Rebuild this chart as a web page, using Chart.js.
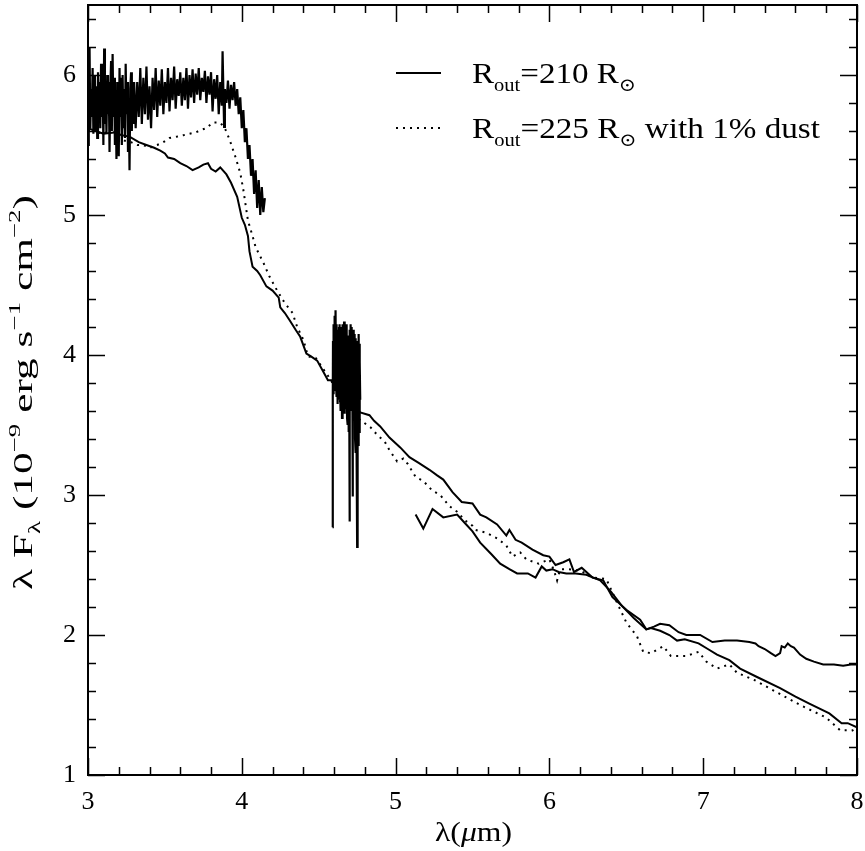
<!DOCTYPE html>
<html>
<head>
<meta charset="utf-8">
<script src="https://cdn.jsdelivr.net/npm/chart.js@4.4.1/dist/chart.umd.min.js"></script>
<style>
  body { margin: 0; background: #fff; }
  canvas { display: block; }
</style>
</head>
<body>
<canvas id="sed" width="865" height="851"></canvas>
<script>
// Observed spectrum, first band (3.0 - 4.15 um)
const obs1X = [3.000,3.005,3.010,3.015,3.020,3.025,3.030,3.035,3.040,3.045,3.050,3.055,3.060,3.065,3.070,3.075,
  3.080,3.085,3.090,3.095,3.100,3.105,3.110,3.115,3.120,3.125,3.130,3.135,3.140,3.145,3.150,3.155,3.160,3.165,
  3.170,3.175,3.180,3.185,3.190,3.195,3.200,3.205,3.210,3.215,3.220,3.225,3.230,3.235,3.240,3.245,3.250,3.255,
  3.260,3.265,3.270,3.275,3.280,3.285,3.290,3.295,3.300,
  3.31,3.32,3.33,3.34,3.35,3.36,3.37,3.38,3.39,
  3.40,3.41,3.42,3.43,3.44,3.45,3.46,3.47,3.48,3.49,3.50,3.51,3.52,3.53,3.54,3.55,3.56,3.57,3.58,3.59,
  3.60,3.61,3.62,3.63,3.64,3.65,3.66,3.67,3.68,3.69,3.70,3.71,3.72,3.73,3.74,3.75,3.76,3.77,3.78,3.79,
  3.80,3.81,3.82,3.83,3.84,3.85,3.86,3.87,3.875,3.885,3.89,3.90,3.91,3.92,3.93,3.94,3.95,3.96,3.97,3.98,
  3.99,4.00,4.01,4.02,4.03,4.04,4.05,4.06,4.07,4.08,4.09,4.10,4.11,4.12,4.13,4.14,4.15];
const obs1Y = [5.50,5.95,6.20,5.62,5.90,5.70,6.05,5.58,5.85,6.00,5.60,5.92,5.55,6.02,5.75,5.95,
  5.62,6.08,5.70,5.98,5.50,6.19,5.65,5.92,5.58,6.00,5.72,5.95,5.45,5.88,6.10,5.60,6.15,5.70,
  5.98,5.50,5.85,5.40,5.95,5.62,5.42,6.05,5.70,5.98,5.50,6.00,5.62,5.90,5.55,6.08,5.72,5.95,
  5.45,5.80,5.32,5.90,6.02,5.60,5.95,5.65,5.95,
  5.62,5.95,5.70,6.05,5.65,5.98,5.72,6.06,5.68,
  5.92,5.62,5.98,5.75,6.05,5.70,5.96,5.78,6.04,5.72,5.95,5.80,6.05,5.74,5.98,5.82,6.06,5.76,5.97,5.85,
  6.02,5.78,5.98,5.82,6.05,5.76,6.00,5.84,6.04,5.80,6.01,5.86,6.05,5.82,5.98,5.88,6.03,5.80,5.99,5.86,
  6.02,5.74,5.97,5.83,6.00,5.72,5.95,5.78,6.17,5.63,5.90,5.80,5.96,5.76,5.93,5.82,5.95,5.78,5.90,5.72,
  5.84,5.62,5.75,5.52,5.62,5.40,5.50,5.28,5.40,5.15,5.32,5.05,5.25,5.00,5.20,5.02,5.12];

// Observed spectrum, second band (4.59 - 4.77 um)
const obs2X = [4.5900,4.5915,4.5930,4.5945,4.5960,4.5975,4.5990,4.6005,4.6020,4.6035,4.6050,4.6065,4.6080,4.6095,
  4.6110,4.6125,4.6140,4.6155,4.6170,4.6185,4.6200,4.6215,4.6230,4.6245,4.6260,4.6275,4.6290,4.6305,4.6320,
  4.6335,4.6350,4.6365,4.6380,4.6395,4.6410,4.6425,4.6440,4.6455,4.6470,4.6485,4.6500,4.6515,4.6530,4.6545,
  4.6560,4.6575,4.6590,4.6605,4.6620,4.6635,4.6650,4.6665,4.6680,4.6695,4.6710,4.6725,4.6740,4.6755,4.6770,
  4.6785,4.6800,4.6815,4.6830,4.6845,4.6860,4.6875,4.6890,4.6905,4.6920,4.6935,4.6950,4.6965,4.6980,4.7000,
  4.7015,4.7030,4.7045,4.7060,4.7075,4.7090,4.7105,4.7120,4.7135,4.7150,4.7165,4.7180,4.7200,4.7215,4.7230,
  4.7245,4.7260,4.7275,4.7290,4.7305,4.7320,4.7335,4.7350,4.7365,4.7380,4.7395,4.7410,4.7425,4.7440,4.7455,
  4.7470,4.7485,4.7500,4.7515,4.7530,4.7545,4.7560,4.7575,4.7590,4.7605,4.7620,4.7635,4.7650,4.7665,4.7680,
  4.7700];
const obs2Y = [2.77,3.70,4.10,3.80,4.22,3.72,4.18,3.95,4.28,3.85,4.25,3.75,4.20,3.90,
  4.32,3.80,4.15,3.70,4.22,3.88,4.12,3.65,4.05,3.75,4.18,3.82,4.10,3.68,4.20,
  3.78,4.15,3.85,4.22,3.72,4.10,3.60,4.18,3.80,4.12,3.70,4.20,3.55,4.08,3.82,
  4.22,3.75,4.15,3.66,4.18,3.85,4.24,3.70,4.10,3.58,4.16,3.80,4.20,3.72,4.12,
  3.62,4.18,3.78,4.22,3.55,4.08,3.70,4.14,3.50,4.05,3.68,4.10,3.45,3.90,2.81,
  3.95,4.18,3.70,4.15,3.82,4.22,3.65,4.12,3.78,4.20,3.60,4.05,2.99,3.90,4.15,
  3.68,4.10,3.75,4.18,3.58,4.08,3.72,4.15,3.40,4.02,3.65,4.12,3.30,3.95,3.60,
  4.05,3.20,2.63,3.85,4.10,3.50,4.05,3.35,4.12,3.60,4.15,3.45,4.08,3.70,3.95,
  3.68];

// Observed spectrum, third band (5.13 - 8.0 um)
const obs3X = [5.13,5.18,5.24,5.31,5.40,5.45,5.50,5.55,5.62,5.68,5.74,5.79,5.86,5.91,5.95,5.98,6.02,6.06,6.11,6.17,
  6.24,6.33,6.40,6.47,6.55,6.63,6.68,6.72,6.78,6.84,6.89,6.98,7.06,7.14,7.22,7.30,7.34,7.36,7.40,7.44,
  7.47,7.50,7.51,7.53,7.55,7.57,7.59,7.63,7.67,7.72,7.78,7.85,7.91,7.96,8.00];
const obs3Y = [2.86,2.76,2.90,2.84,2.86,2.80,2.74,2.66,2.58,2.51,2.47,2.44,2.44,2.41,2.49,2.46,2.47,2.45,2.44,2.44,
  2.43,2.39,2.31,2.21,2.12,2.04,2.06,2.08,2.07,2.02,2.00,2.00,1.95,1.96,1.96,1.95,1.94,1.92,1.90,1.87,
  1.85,1.87,1.92,1.91,1.94,1.92,1.91,1.86,1.83,1.81,1.79,1.79,1.78,1.79,1.79];

// Model, R_out = 210 R_sun
const modAX = [3.00,3.05,3.10,3.17,3.22,3.27,3.33,3.38,3.43,3.47,3.50,3.52,3.56,3.60,3.64,3.68,3.72,3.75,3.78,3.80,
  3.83,3.86,3.90,3.93,3.97,4.00,4.02,4.04,4.05,4.07,4.10,4.12,4.16,4.20,4.24,4.25,4.28,4.31,4.35,4.38,
  4.42,4.45,4.49,4.53,4.56,4.59,4.62,4.68,4.72,4.77,4.83,4.86,4.90,4.96,5.03,5.09,5.15,5.22,5.27,5.31,
  5.37,5.43,5.50,5.55,5.59,5.66,5.72,5.74,5.78,5.82,5.89,5.96,6.00,6.04,6.09,6.13,6.16,6.21,6.28,6.35,
  6.41,6.50,6.59,6.63,6.66,6.72,6.78,6.83,6.88,6.97,7.03,7.09,7.17,7.24,7.35,7.50,7.60,7.69,7.82,7.90,
  7.94,8.00];
const modAY = [5.62,5.60,5.58,5.59,5.57,5.56,5.52,5.50,5.48,5.46,5.44,5.41,5.40,5.37,5.35,5.32,5.34,5.36,5.37,5.33,
  5.31,5.34,5.29,5.23,5.13,4.98,4.93,4.85,4.74,4.63,4.60,4.57,4.49,4.46,4.41,4.34,4.30,4.25,4.18,4.13,
  4.01,3.99,3.96,3.88,3.82,3.82,3.75,3.70,3.66,3.59,3.57,3.53,3.49,3.41,3.34,3.27,3.23,3.18,3.14,3.11,
  3.02,2.95,2.94,2.86,2.84,2.79,2.71,2.75,2.68,2.66,2.61,2.57,2.56,2.50,2.52,2.54,2.45,2.48,2.41,2.39,
  2.27,2.18,2.11,2.04,2.05,2.03,2.00,1.96,1.97,1.94,1.90,1.86,1.82,1.76,1.70,1.62,1.56,1.51,1.44,1.37,
  1.37,1.34];

// Model, R_out = 225 R_sun with 1% dust
const modBX = [3.00,3.03,3.06,3.10,3.13,3.16,3.20,3.24,3.28,3.32,3.36,3.40,3.45,3.49,3.53,3.58,3.62,3.66,3.70,3.74,
  3.77,3.81,3.86,3.89,3.92,3.96,3.99,4.01,4.04,4.07,4.09,4.14,4.18,4.23,4.28,4.33,4.36,4.40,4.43,4.48,
  4.53,4.58,4.62,4.65,4.70,4.74,4.79,4.84,4.88,4.93,4.96,5.01,5.05,5.08,5.13,5.18,5.24,5.29,5.35,5.40,
  5.45,5.50,5.52,5.59,5.66,5.72,5.76,5.81,5.85,5.93,6.00,6.03,6.05,6.07,6.12,6.20,6.28,6.37,6.44,6.50,
  6.57,6.61,6.66,6.74,6.79,6.89,6.97,7.02,7.09,7.17,7.22,7.33,7.48,7.63,7.80,7.89,7.97,8.00];
const modBY = [5.60,5.62,5.58,5.60,5.57,5.61,5.55,5.53,5.52,5.50,5.50,5.48,5.50,5.52,5.55,5.56,5.57,5.58,5.59,5.61,
  5.62,5.66,5.66,5.62,5.54,5.41,5.30,5.18,4.96,4.85,4.77,4.66,4.56,4.46,4.37,4.30,4.20,4.11,3.99,3.98,
  3.90,3.82,3.73,3.63,3.60,3.56,3.52,3.48,3.43,3.38,3.32,3.24,3.26,3.22,3.13,3.10,3.03,3.00,2.92,2.88,
  2.82,2.78,2.75,2.73,2.69,2.64,2.56,2.59,2.54,2.51,2.54,2.46,2.39,2.47,2.47,2.46,2.41,2.40,2.23,2.09,
  1.99,1.88,1.87,1.92,1.85,1.85,1.88,1.81,1.76,1.79,1.73,1.68,1.59,1.50,1.41,1.32,1.32,1.29];

const xTicks = [3, 4, 5, 6, 7, 8];
const yTicks = [1, 2, 3, 4, 5, 6];

const FONT = "'Liberation Serif', 'DejaVu Serif', serif";

function pts(xs, ys) {
  return xs.map((x, i) => ({ x: x, y: ys[i] }));
}

function lineSet(xs, ys, dotted, width) {
  return {
    data: pts(xs, ys),
    borderColor: "#000",
    borderWidth: width || 2,
    borderDash: dotted ? [2, 5] : [],
    pointRadius: 0,
    showLine: true,
    tension: 0,
    fill: false,
  };
}

// text runs with sub/superscripts
function richWidth(ctx, parts, size) {
  let w = 0;
  parts.forEach((p) => {
    const s = p.sub || p.sup ? size * 0.62 : size;
    ctx.font = (p.italic ? "italic " : "") + s + "px " + FONT;
    w += ctx.measureText(p.t).width;
  });
  return w;
}

function drawRich(ctx, x, y, parts, size) {
  let cx = x;
  parts.forEach((p) => {
    const s = p.sub || p.sup ? size * 0.62 : size;
    ctx.font = (p.italic ? "italic " : "") + s + "px " + FONT;
    let dy = 0;
    if (p.sub) dy = size * 0.28;
    if (p.sup) dy = -size * 0.42;
    ctx.fillText(p.t, cx, y + dy);
    cx += ctx.measureText(p.t).width;
  });
}

// draw text stretched along its baseline to a given length
function drawFitted(ctx, x, y, parts, size, target) {
  const w = richWidth(ctx, parts, size);
  ctx.save();
  ctx.translate(x, y);
  ctx.scale(target / w, 1);
  drawRich(ctx, 0, 0, parts, size);
  ctx.restore();
}

const framePlugin = {
  id: "frame",
  afterDatasetsDraw(chart) {
    const ctx = chart.ctx;
    const a = chart.chartArea;
    const xs = chart.scales.x;
    const ys = chart.scales.y;
    ctx.save();
    ctx.strokeStyle = "#000";
    ctx.lineWidth = 2;
    ctx.strokeRect(a.left, a.top, a.right - a.left, a.bottom - a.top);

    // inward ticks on all four sides
    ctx.lineWidth = 1.5;
    ctx.beginPath();
    for (let i = 0; i <= 25; i++) {
      const v = 3 + i * 0.2;
      const len = i % 5 === 0 ? 17 : 8;
      const px = Math.round(xs.getPixelForValue(v)) + 0.5;
      ctx.moveTo(px, a.bottom);
      ctx.lineTo(px, a.bottom - len);
      ctx.moveTo(px, a.top);
      ctx.lineTo(px, a.top + len);
    }
    for (let i = 0; i <= 27; i++) {
      const v = 1 + i * 0.2;
      const len = i % 5 === 0 ? 17 : 8;
      const py = Math.round(ys.getPixelForValue(v)) + 0.5;
      ctx.moveTo(a.left, py);
      ctx.lineTo(a.left + len, py);
      ctx.moveTo(a.right, py);
      ctx.lineTo(a.right - len, py);
    }
    ctx.stroke();

    ctx.fillStyle = "#000";
    ctx.textBaseline = "alphabetic";
    ctx.textAlign = "left";

    // legend
    ctx.lineWidth = 2;
    ctx.beginPath();
    ctx.moveTo(396, 73);
    ctx.lineTo(441, 73);
    ctx.stroke();
    ctx.setLineDash([2, 5]);
    ctx.beginPath();
    ctx.moveTo(396, 128);
    ctx.lineTo(441, 128);
    ctx.stroke();
    ctx.setLineDash([]);

    drawFitted(ctx, 472, 83, [
      { t: "R" }, { t: "out", sub: true }, { t: "=210 R" }, { t: "\u2299", sub: true },
    ], 30, 164);
    drawFitted(ctx, 472, 138, [
      { t: "R" }, { t: "out", sub: true }, { t: "=225 R" }, { t: "\u2299", sub: true }, { t: " with 1% dust" },
    ], 30, 348);

    // x axis title
    drawFitted(ctx, 435, 841, [{ t: "\u03bb(" }, { t: "\u03bc", italic: true }, { t: "m)" }], 28, 77);

    // y axis title, rotated
    const yt = [
      { t: "\u03bb F" }, { t: "\u03bb", sub: true }, { t: " (10" }, { t: "\u22129", sup: true },
      { t: " erg s" }, { t: "\u22121", sup: true }, { t: " cm" }, { t: "\u22122", sup: true }, { t: ")" },
    ];
    ctx.translate(32, 590);
    ctx.rotate(-Math.PI / 2);
    drawFitted(ctx, 0, 0, yt, 28, 395);
    ctx.restore();
  },
};

new Chart(document.getElementById("sed"), {
  type: "scatter",
  data: {
    datasets: [
      lineSet(obs1X, obs1Y, false, 2.2),
      lineSet(obs2X, obs2Y, false, 2.2),
      lineSet(obs3X, obs3Y, false),
      lineSet(modAX, modAY, false),
      lineSet(modBX, modBY, true),
    ],
  },
  options: {
    responsive: false,
    animation: false,
    layout: { padding: { top: 5, right: 8, left: 0, bottom: 0 } },
    plugins: {
      legend: { display: false },
      tooltip: { enabled: false },
    },
    scales: {
      x: {
        type: "linear",
        min: 3,
        max: 8,
        grid: { display: false, drawTicks: false },
        border: { display: false },
        afterFit: (s) => {
          s.height = 76;
          s.paddingLeft = 0;
          s.paddingRight = 0;
        },
        afterBuildTicks: (s) => { s.ticks = xTicks.map((v) => ({ value: v })); },
        ticks: {
          color: "#000",
          padding: 12,
          maxRotation: 0,
          font: { family: FONT, size: 26 },
        },
      },
      y: {
        type: "linear",
        min: 1,
        max: 6.5,
        grid: { display: false, drawTicks: false },
        border: { display: false },
        afterFit: (s) => {
          s.width = 88;
          s.paddingTop = 0;
          s.paddingBottom = 0;
        },
        afterBuildTicks: (s) => { s.ticks = yTicks.map((v) => ({ value: v })); },
        ticks: {
          color: "#000",
          padding: 12,
          font: { family: FONT, size: 26 },
        },
      },
    },
  },
  plugins: [framePlugin],
});
</script>
</body>
</html>
